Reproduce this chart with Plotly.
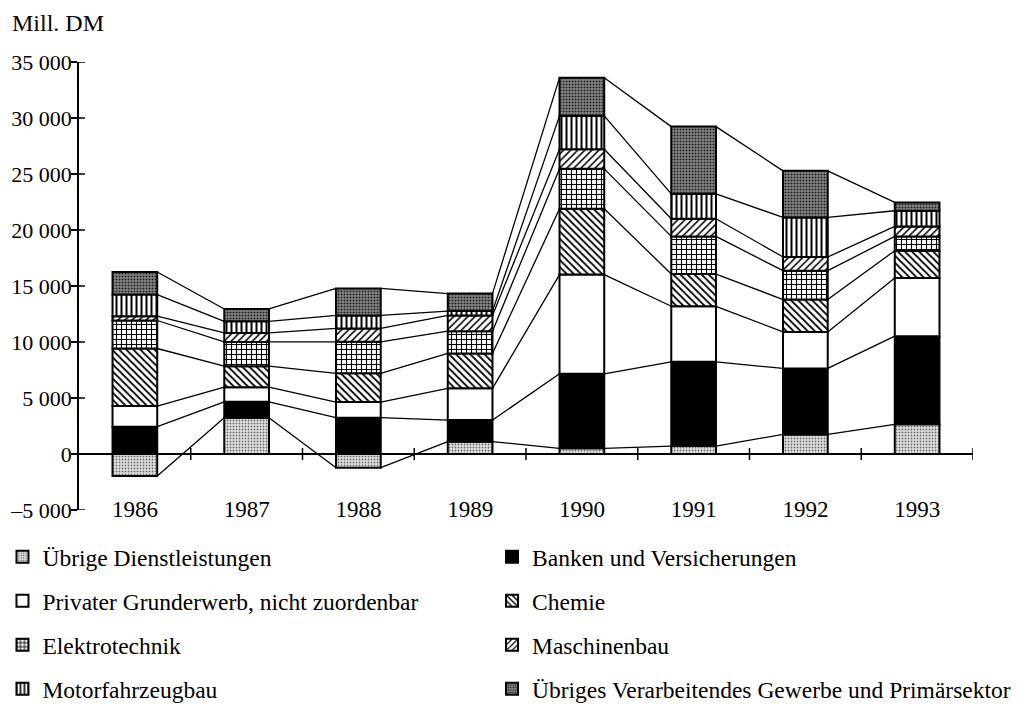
import plotly.graph_objects as go

# Direktinvestitionen, Mill. DM
years = [1986, 1987, 1988, 1989, 1990, 1991, 1992, 1993]

dienstleistungen = [-1960, 3240, -1220, 1100, 510, 710, 1750, 2650]
banken = [2440, 1420, 3240, 1930, 6650, 7520, 5890, 7870]
grunderwerb = [1840, 1310, 1400, 2830, 8860, 4960, 3260, 5190]
chemie = [5140, 1870, 2560, 3120, 5880, 2880, 2890, 2440]
elektro = [2500, 2170, 2820, 1990, 3560, 3360, 2580, 1280]
maschinenbau = [380, 800, 1190, 1400, 1750, 1580, 1220, 890]
motorfahrzeug = [1930, 1040, 1160, 390, 2980, 2220, 3530, 1400]
uebriges = [2020, 1100, 2410, 1560, 3410, 6000, 4160, 740]

y_ticks = [-5000, 0, 5000, 10000, 15000, 20000, 25000, 30000, 35000]
y_ticktext = ["\u20135 000", "0", "5 000", "10 000", "15 000", "20 000",
              "25 000", "30 000", "35 000"]

FONT = "Liberation Serif"
BAR_W = 0.4

# stack order from bottom to top
series = [
    ("Übrige Dienstleistungen", dienstleistungen,
     dict(shape=".", fgcolor="#6a6a6a", bgcolor="#e4e4e4", size=3, solidity=0.3)),
    ("Banken und Versicherungen", banken,
     dict(shape="", fgcolor="black", bgcolor="black")),
    ("Privater Grunderwerb, nicht zuordenbar", grunderwerb,
     dict(shape="", fgcolor="white", bgcolor="white")),
    ("Chemie", chemie,
     dict(shape="\\", fgcolor="black", bgcolor="white", size=5, solidity=0.35)),
    ("Elektrotechnik", elektro,
     dict(shape="+", fgcolor="black", bgcolor="white", size=5, solidity=0.4)),
    ("Maschinenbau", maschinenbau,
     dict(shape="/", fgcolor="black", bgcolor="white", size=5, solidity=0.3)),
    ("Motorfahrzeugbau", motorfahrzeug,
     dict(shape="|", fgcolor="black", bgcolor="white", size=5, solidity=0.4)),
    ("Übriges Verarbeitendes Gewerbe und Primärsektor", uebriges,
     dict(shape=".", fgcolor="#222222", bgcolor="#8a8a8a", size=3, solidity=0.4)),
]

# legend layout: two columns, four rows (left item, right item per row)
leg_x = [-0.0856, 0.462]
leg_y = [-47 / 448, -91 / 448, -135 / 448, -179 / 448]

fig = go.Figure()
legend_layout = {}

pos_cum = [0] * len(years)
neg_cum = [0] * len(years)
for k, (name, vals, pat) in enumerate(series):
    leg = "legend" if k == 0 else f"legend{k + 1}"
    legend_layout[leg] = dict(
        orientation="v", x=leg_x[k % 2], xanchor="left",
        y=leg_y[k // 2], yanchor="middle",
        font=dict(family=FONT, size=23.5, color="black"),
        bgcolor="rgba(0,0,0,0)")
    fig.add_trace(go.Bar(
        x=years, y=vals, name=name, width=BAR_W,
        marker=dict(color=pat["bgcolor"], line=dict(color="black", width=2),
                    pattern=dict(fillmode="replace", **pat)),
        legend=leg,
    ))
    # end of each segment, for the connecting lines
    ends = []
    for i, v in enumerate(vals):
        if v >= 0:
            pos_cum[i] += v
            ends.append(pos_cum[i])
        else:
            neg_cum[i] += v
            ends.append(neg_cum[i])
    lx, ly = [], []
    for i in range(len(years) - 1):
        lx += [years[i] + BAR_W / 2, years[i + 1] - BAR_W / 2, None]
        ly += [ends[i], ends[i + 1], None]
    fig.add_trace(go.Scatter(x=lx, y=ly, mode="lines", showlegend=False,
                             line=dict(color="black", width=1.3), hoverinfo="skip"))

# small ticks crossing the zero line between the years
shapes = []
for yr in years:
    shapes.append(dict(type="line", xref="x", yref="y", x0=yr + 0.5, x1=yr + 0.5,
                       ysizemode="pixel", yanchor=0, y0=-6, y1=6,
                       line=dict(color="black", width=1.5)))
# inner half of the y ticks (they cross the axis)
for t in y_ticks:
    shapes.append(dict(type="line", xref="paper", yref="y", y0=t, y1=t,
                       xsizemode="pixel", xanchor=0, x0=0, x1=6,
                       line=dict(color="black", width=1.5)))

fig.update_layout(
    width=1025, height=704,
    margin=dict(l=71, r=60, t=54, b=202, autoexpand=False),
    plot_bgcolor="white", paper_bgcolor="white",
    barmode="relative",
    font=dict(family=FONT, size=23, color="black"),
    annotations=[dict(text="Mill. DM", xref="paper", yref="paper",
                      x=-69 / 894, y=(510 - 23) / 448, xanchor="left", yanchor="middle",
                      showarrow=False, font=dict(family=FONT, size=24, color="black"))],
    xaxis=dict(range=[1985.5, 1993.5], tickvals=years, showline=False, showgrid=False,
               zeroline=False, ticks="", ticklabelstandoff=-17,
               tickfont=dict(family=FONT, size=23)),
    yaxis=dict(range=[-5000, 35000], tickvals=y_ticks, ticktext=y_ticktext,
               showline=True, linecolor="black", linewidth=1.5, showgrid=False,
               zeroline=True, zerolinecolor="black", zerolinewidth=1.5,
               ticks="outside", ticklen=6, tickwidth=1.5, tickcolor="black",
               ticklabelstandoff=-5, tickfont=dict(family=FONT, size=22)),
    shapes=shapes,
    **legend_layout,
)

fig.write_html("out.html")
